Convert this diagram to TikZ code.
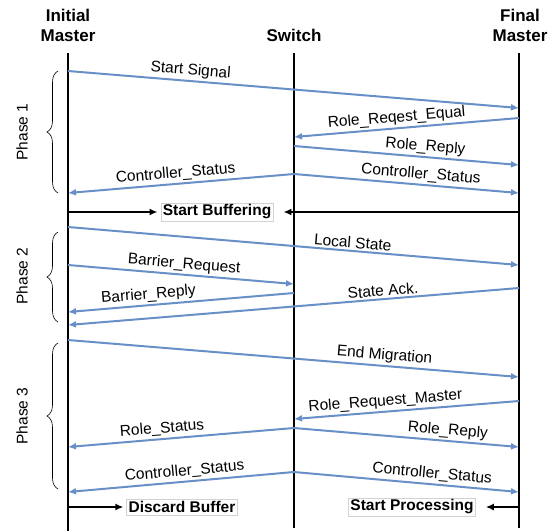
\documentclass[tikz,border=0pt]{standalone}
\usepackage{fontspec}
\setmainfont{Liberation Sans}
\usetikzlibrary{arrows.meta,decorations.pathreplacing}

\definecolor{msgblue}{RGB}{104,143,199}

\begin{document}
\begin{tikzpicture}[x=1pt,y=-1pt,font=\fontsize{15.5}{18}\selectfont,
    head/.style={align=center,font=\fontsize{17}{20}\selectfont\bfseries},
    life/.style={black,line width=2.3pt},
    msg/.style={msgblue,line width=2pt,-{Latex[length=8pt,width=7pt]}},
    lbl/.style={above,sloped,inner sep=2pt,black},
    act/.style={black,line width=1.8pt,-{Latex[length=8pt,width=7pt]}},
    statebox/.style={draw=gray!35,fill=white,inner sep=2pt,font=\fontsize{15.5}{18}\selectfont\bfseries},
    phase/.style={decorate,decoration={brace,amplitude=11pt},semithick}]
        \useasboundingbox (0,0) rectangle (559,531);
        % headers and lifelines
        \node[head] (im) at (68,25) {Initial\\Master};
        \node[head] (sw) at (294,35) {Switch};
        \node[head] (fm) at (520,25) {Final\\Master};
        \draw[life] (68,53) -- (68,531);
        \draw[life] (294,53) -- (294,528);
        \draw[life] (519,53) -- (519,528);
        % messages
        \foreach \xa/\ya/\xb/\yb/\p/\txt in {
          68/71/519/108/0.27/Start Signal,
          519/118/294/137/0.54/Role\_Reqest\_Equal,
          294/146/519/165/0.58/Role\_Reply,
          294/174/519/193/0.56/Controller\_Status,
          294/174/68/193/0.52/Controller\_Status,
          68/227/519/265/0.63/Local State,
          68/265/294/284/0.51/Barrier\_Request,
          294/293/68/312/0.64/Barrier\_Reply,
          519/288/68/325/0.30/State Ack.,
          68/340/519/377/0.70/End Migration,
          519/401/294/419/0.59/Role\_Request\_Master,
          294/428/68/447/0.58/Role\_Status,
          294/428/519/447/0.68/Role\_Reply,
          294/472/68/492/0.48/Controller\_Status,
          294/472/519/492/0.61/Controller\_Status} {
          \draw[msg] (\xa,\ya) -- (\xb,\yb) node[lbl,pos=\p] {\txt};
        }
        % phases
        \draw[phase] (58,193) -- (58,71);
        \draw[phase] (58,322) -- (58,232);
        \draw[phase] (58,489) -- (58,343);
        \node[rotate=90] (p1) at (22,132) {Phase 1};
        \node[rotate=90] (p2) at (22,276) {Phase 2};
        \node[rotate=90] (p3) at (22,416) {Phase 3};
        % actions
        \node[statebox] (sb) at (217,212) {Start Buffering};
        \draw[act] (68,212) -- ([xshift=-3pt]sb.west);
        \draw[act] (519,212) -- ([xshift=10pt]sb.east);
        \node[statebox] (db) at (182,507) {Discard Buffer};
        \draw[act] (68,507) -- ([xshift=-3pt]db.west);
        \node[statebox] (sp) at (412,507) {Start Processing};
        \draw[act] (519,507) -- ([xshift=10pt]sp.east);
      \end{tikzpicture}
\end{document}
